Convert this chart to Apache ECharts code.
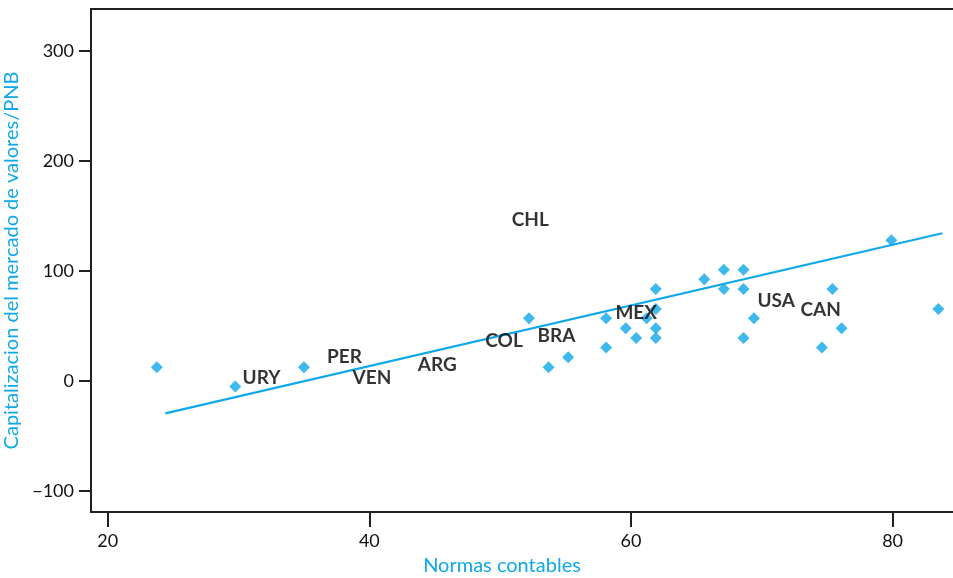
<!DOCTYPE html>
<html>
<head>
<meta charset="utf-8">
<script src="https://cdn.jsdelivr.net/npm/echarts@6/dist/echarts.min.js"></script>
<style>
  html, body { margin: 0; padding: 0; background: #fff; }
  #main { width: 953px; height: 578px; }
</style>
</head>
<body>
<div id="main"></div>
<script>
// puntos (normas contables, capitalizacion)
var puntosX = [23.75, 29.75, 35.0, 52.2, 53.7, 55.2, 58.1, 58.1, 59.6, 60.4, 61.2,
  61.9, 61.9, 61.9, 61.9, 65.6, 67.1, 67.1, 68.6, 68.6, 68.6, 69.4, 74.6, 75.4, 76.1, 79.9, 83.5];
var puntosY = [12.5, -5, 12.5, 57, 12.5, 21.5, 30.5, 57, 48, 39, 57,
  83.6, 65.5, 48, 39, 92.5, 101, 83.6, 101, 83.6, 39, 57, 30.5, 83.6, 48, 128, 65.5];

// recta de regresion
var rectaX = [24.4, 83.8];
var rectaY = [-29.4, 134.3];

// etiquetas de paises
var paises = ['URY', 'PER', 'VEN', 'ARG', 'COL', 'BRA', 'CHL', 'MEX', 'USA', 'CAN'];
var paisX = [31.76, 38.1, 40.2, 45.2, 50.3, 54.3, 52.3, 60.4, 71.1, 74.5];
var paisY = [2.5, 21.8, 2.7, 14.5, 36.4, 40.9, 146.4, 61.8, 72.7, 64.5];

var ticksX = [20, 40, 60, 80];
var ticksY = [-100, 0, 100, 200, 300];

var azul = '#0fa8e8';
var oscuro = '#231f20';
var fuente = 'Lato';

var chartDom = document.getElementById('main');
var myChart = echarts.init(chartDom);
var option;

option = {
  animation: false,
  textStyle: { fontFamily: fuente },
  grid: {
    left: 91, top: 9, right: -5, bottom: 66,
    outerBoundsMode: 'none', containLabel: false,
    show: true, borderColor: oscuro, borderWidth: 2
  },
  xAxis: {
    type: 'value', min: 18.72, max: 85,
    name: 'Normas contables', nameLocation: 'middle', nameGap: 44,
    nameTextStyle: { color: azul, fontSize: 20, fontFamily: fuente, padding: [0, 45, 0, 0] },
    splitLine: { show: false },
    axisLine: { show: true, onZero: false, lineStyle: { color: oscuro, width: 2 } },
    axisTick: { show: true, customValues: ticksX, length: 15, lineStyle: { color: oscuro, width: 2 } },
    axisLabel: { customValues: ticksX, color: '#111', fontSize: 18, margin: 20 }
  },
  yAxis: {
    type: 'value', min: -119, max: 338,
    name: 'Capitalizacion del mercado de valores/PNB', nameLocation: 'middle', nameGap: 62,
    nameTextStyle: { color: azul, fontSize: 20, fontFamily: fuente },
    splitLine: { show: false },
    axisLine: { show: true, onZero: false, lineStyle: { color: oscuro, width: 2 } },
    axisTick: { show: true, customValues: ticksY, length: 12, lineStyle: { color: oscuro, width: 2 } },
    axisLabel: { customValues: ticksY, color: '#111', fontSize: 18, margin: 17,
      formatter: function (v) { return v < 0 ? '\u2212' + Math.abs(v) : v; } }
  },
  series: [
    {
      type: 'line',
      data: rectaX.map(function (x, i) { return [x, rectaY[i]]; }),
      symbol: 'none',
      lineStyle: { color: azul, width: 2.2 },
      z: 2
    },
    {
      type: 'scatter',
      data: puntosX.map(function (x, i) { return [x, puntosY[i]]; }),
      symbol: 'diamond',
      symbolSize: 12,
      itemStyle: { color: azul },
      z: 3
    },
    {
      type: 'scatter',
      data: paises.map(function (p, i) { return { name: p, value: [paisX[i], paisY[i]] }; }),
      symbolSize: 0,
      label: {
        show: true, position: 'inside', formatter: '{b}',
        color: '#000', fontSize: 19, fontWeight: 'bold', fontFamily: fuente
      },
      z: 4
    }
  ]
};
option && myChart.setOption(option);
</script>
</body>
</html>
